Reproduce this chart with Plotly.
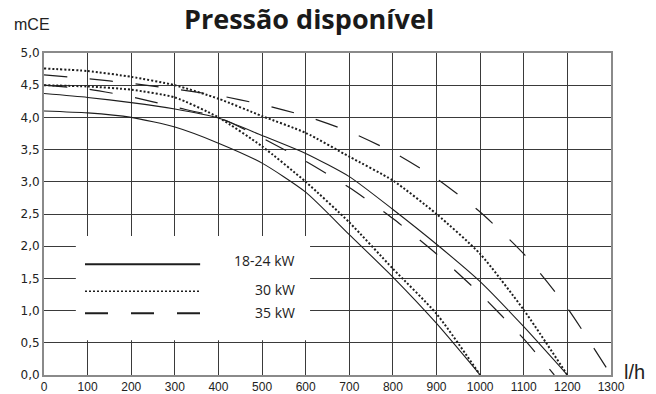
import plotly.graph_objects as go

# ---- data ----
flow_1000 = [0, 100, 200, 300, 400, 500, 600, 700, 800, 900, 1000]
flow_1200 = [0, 100, 200, 300, 400, 500, 600, 700, 800, 900, 1000, 1100, 1200]
flow_1170 = [0, 100, 200, 300, 400, 500, 600, 700, 800, 900, 1000, 1100, 1170]
flow_1300 = [0, 100, 200, 300, 400, 500, 600, 700, 800, 900, 1000, 1100, 1200, 1300]

solid_low = [4.10, 4.07, 4.00, 3.85, 3.60, 3.29, 2.84, 2.18, 1.52, 0.80, 0.0]
solid_high = [4.37, 4.31, 4.23, 4.13, 3.99, 3.72, 3.44, 3.08, 2.57, 2.03, 1.45, 0.75, 0.0]
dotted_low = [4.50, 4.48, 4.43, 4.31, 4.00, 3.55, 3.00, 2.37, 1.65, 0.95, 0.0]
dotted_high = [4.76, 4.72, 4.63, 4.50, 4.29, 4.02, 3.76, 3.39, 3.02, 2.50, 1.88, 1.01, 0.0]
dashed_low = [4.50, 4.44, 4.32, 4.16, 4.00, 3.68, 3.32, 2.91, 2.43, 1.88, 1.26, 0.56, 0.0]
dashed_high = [4.66, 4.60, 4.53, 4.44, 4.34, 4.20, 4.02, 3.78, 3.46, 3.05, 2.53, 1.88, 1.04, 0.0]

x_ticks = list(range(0, 1301, 100))
x_labels = [str(v) for v in x_ticks]
y_ticks = [0, 0.5, 1, 1.5, 2, 2.5, 3, 3.5, 4, 4.5, 5]
y_labels = ["0,0", "0,5", "1,0", "1,5", "2,0", "2,5", "3,0", "3,5", "4,0", "4,5", "5,0"]

legend_names = ["18-24 kW", "30 kW", "35 kW"]

INK = "#1e1e1e"
SOLID = dict(color=INK, width=1.1)
DOT = dict(color=INK, width=2, dash="2px,2px")
DASH = dict(color=INK, width=1.2, dash="23px,23px")

fig = go.Figure()
for xs, ys, ln in [
    (flow_1000, solid_low, SOLID),
    (flow_1200, solid_high, SOLID),
    (flow_1000, dotted_low, DOT),
    (flow_1200, dotted_high, DOT),
    (flow_1170, dashed_low, DASH),
    (flow_1300, dashed_high, DASH),
]:
    fig.add_trace(go.Scatter(x=xs, y=ys, mode="lines", line=dict(shape="spline", smoothing=0.6, **ln),
                             showlegend=False, hoverinfo="skip"))

# legend box (white, hides the grid) and keys
fig.add_shape(type="rect", xref="x", yref="y", x0=73, x1=610, y0=0.54, y1=2.16,
              fillcolor="white", line=dict(width=0), layer="between")
key_y = [1.72, 1.30, 0.96]
text_shift = [4, 2, 1]
for ky, ts, ln, name in zip(key_y, text_shift,
                            [dict(color=INK, width=2), dict(color=INK, width=1.5, dash="2px,2px"),
                             dict(color=INK, width=2, dash="23px,23px")], legend_names):
    fig.add_shape(type="line", xref="x", yref="y", x0=94, x1=358, y0=ky, y1=ky, line=ln, layer="above")
    fig.add_annotation(x=580, y=ky, xref="x", yref="y", yshift=ts, text=name, showarrow=False, xanchor="right",
                       font=dict(family="Open Sans", size=14, color="#222"))

fig.add_annotation(x=0.467, y=1.0, xref="paper", yref="paper", yshift=14, text="<b>Pressão disponível</b>",
                   showarrow=False, xanchor="center", yanchor="bottom",
                   font=dict(family="Open Sans", size=27, color="#1a1a1a"))
fig.add_annotation(x=-0.057, y=1.0, xref="paper", yref="paper", yshift=18, text="mCE", showarrow=False,
                   xanchor="left", yanchor="bottom", font=dict(family="Liberation Sans", size=16, color="#222"))
fig.add_annotation(x=1.0, y=0.0, xref="paper", yref="paper", xshift=11, yshift=-10, text="l/h", showarrow=False,
                   xanchor="left", yanchor="bottom", font=dict(family="Liberation Sans", size=20, color="#222"))

fig.update_layout(
    width=656, height=394,
    margin=dict(l=44, r=45, t=53, b=19, autoexpand=False),
    paper_bgcolor="white", plot_bgcolor="white",
    showlegend=False,
)
fig.update_xaxes(range=[0, 1300], tickvals=x_ticks, ticktext=x_labels, showgrid=True, gridcolor="#3a3a3a",
                 gridwidth=1, showline=True, linecolor="#8a8a8a", linewidth=2, mirror=True, zeroline=False,
                 ticks="", automargin=False, tickfont=dict(family="Liberation Sans", size=12, color="#222"))
fig.update_yaxes(range=[0, 5], tickvals=y_ticks, ticktext=y_labels, showgrid=True, gridcolor="#3a3a3a",
                 gridwidth=1, showline=True, linecolor="#8a8a8a", linewidth=2, mirror=True, zeroline=False,
                 ticks="", automargin=False, tickfont=dict(family="DejaVu Sans", size=12, color="#222"))

fig.write_html("out.html", config={"displayModeBar": False},
               post_script="document.body.style.margin='0';document.body.style.overflow='hidden';")
